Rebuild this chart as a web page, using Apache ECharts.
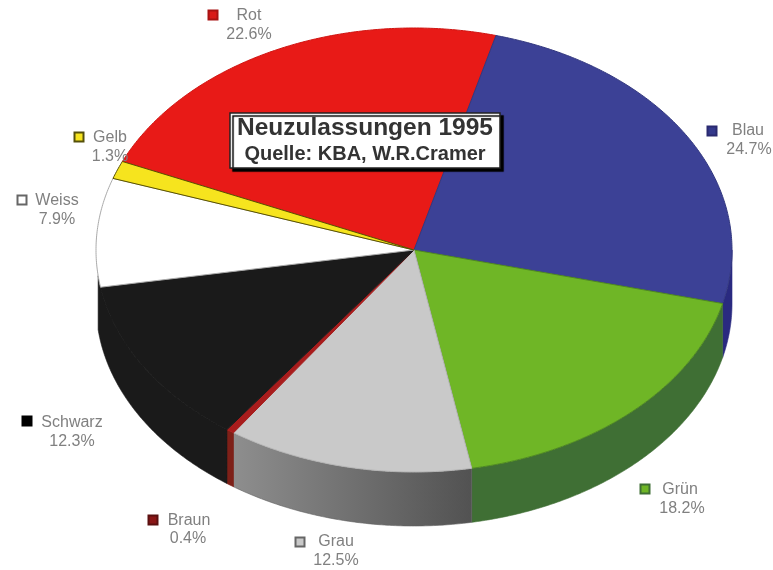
<!DOCTYPE html>
<html>
<head>
<meta charset="utf-8">
<style>html,body{margin:0;padding:0;background:#fff}#c{width:773px;height:570px}</style>
<script src="https://cdn.jsdelivr.net/npm/echarts@6/dist/echarts.min.js"></script>
</head>
<body>
<div id="c"></div>
<script>
// Data
var categories = ['Rot', 'Blau', 'Grün', 'Grau', 'Braun', 'Schwarz', 'Weiss', 'Gelb'];
var shares = [22.6, 24.7, 18.2, 12.5, 0.4, 12.3, 7.9, 1.3];
var shareLabels = ['22.6%', '24.7%', '18.2%', '12.5%', '0.4%', '12.3%', '7.9%', '1.3%'];

// Styles and layout
var topColors = ['#e81a17', '#3c4196', '#6fb626', '#c9c9c9', '#a81c1c', '#1a1a1a', '#ffffff', '#f6e41e'];
var topStrokes = ['#d01512', '#33387f', '#4f8a20', '#b5b5b5', '#a81c1c', '#1a1a1a', '#aaaaaa', '#5a5200'];
var sideColors = ['#a01010', '#2a2a80',  '#3f6f34', null, '#7e2018', '#1a1a1a', 'none', '#a09410'];
var sideOverrun = [0, 0, 0, 0, 0, 3, 0, 0];
var markerFill = ['#d91a18', '#34398c', '#6fb626', '#c9c9c9', '#8a1616', '#000000', '#ffffff', '#f6e41e'];
var markerEdge = ['#a81212', '#2a2a70', '#3f6f34', '#666666', '#5a1010', '#000000', '#666666', '#55500a'];
var markerPos = [[213,15],[712,131],[645,489],[300,542],[153,520],[27,421],[22,200],[79,137]];
var namePos   = [[249,16],[748,131],[680,490],[336,542],[189,521],[72,423],[57,201],[110,138]];
var valuePos  = [[249,35],[749,150],[682,509],[336,561],[188,539],[72,442],[57,220],[110,157]];
var cx = 414, cy = 250, rx = 318, ry = 222, depth = 54, startDeg = -66.5;

var total = shares.reduce(function (a, b) { return a + b; }, 0);
function boundsOf(i) {
  var sum = 0;
  for (var k = 0; k < i; k++) sum += shares[k];
  return [startDeg + sum / total * 360, startDeg + (sum + shares[i]) / total * 360];
}
function pt(deg, dy) {
  var t = deg * Math.PI / 180;
  return [cx + rx * Math.sin(t), cy - ry * Math.cos(t) + (dy || 0)];
}
function arc(a0, a1, dy) {
  var out = [], n = Math.max(2, Math.ceil(Math.abs(a1 - a0) * 2));
  for (var j = 0; j <= n; j++) out.push(pt(a0 + (a1 - a0) * j / n, dy));
  return out;
}
var rows = categories.map(function (c, i) { return { name: c, value: [i, shares[i]] }; });

var option = {
  animation: false,
  backgroundColor: '#ffffff',
  title: {
    text: 'Neuzulassungen 1995',
    subtext: 'Quelle: KBA, W.R.Cramer',
    left: 358, top: 113,
    textAlign: 'center',
    padding: [2, 7, 3, 7],
    itemGap: 1,
    backgroundColor: '#ffffff',
    borderColor: '#222222',
    borderWidth: 1.5,
    shadowColor: '#000000',
    shadowBlur: 1,
    shadowOffsetX: 3,
    shadowOffsetY: 3,
    textStyle: { fontFamily: 'Liberation Sans', fontWeight: 'bold', fontSize: 24.5, color: '#333333', lineHeight: 27 },
    subtextStyle: { fontFamily: 'Liberation Sans', fontWeight: 'bold', fontSize: 20, color: '#333333', lineHeight: 22 },
    z: 10
  },
  series: [
    {
      type: 'custom', name: 'Seite', coordinateSystem: 'none', z: 1, data: rows, silent: true,
      renderItem: function (p, api) {
        var i = api.value(0), b = boundsOf(i);
        var lo = Math.max(b[0], 90), hi = Math.min(b[1] + sideOverrun[i], 270);
        if (hi <= lo || sideColors[i] === 'none') return { type: 'group', children: [] };
        var pts = arc(lo, hi, 0).concat(arc(hi, lo, depth));
        var fill = sideColors[i] || {
          type: 'linear', x: 1, y: 0, x2: 0, y2: 0,
          colorStops: [{ offset: 0, color: '#525252' }, { offset: 1, color: '#8e8e8e' }]
        };
        return { type: 'polygon', shape: { points: pts }, style: { fill: fill, stroke: sideColors[i] || '#606060', lineWidth: 0.6 } };
      }
    },
    {
      type: 'custom', name: 'Anteil', coordinateSystem: 'none', z: 2, data: rows, silent: true,
      renderItem: function (p, api) {
        var i = api.value(0), b = boundsOf(i);
        var pts = [[cx, cy]].concat(arc(b[0], b[1], 0));
        return { type: 'polygon', shape: { points: pts }, style: { fill: topColors[i], stroke: topStrokes[i], lineWidth: 1 } };
      }
    },
    {
      type: 'custom', name: 'Legende', coordinateSystem: 'none', z: 5, data: rows, silent: true,
      renderItem: function (p, api) {
        var i = api.value(0), m = markerPos[i], n = namePos[i], v = valuePos[i];
        var font = '16px "Liberation Sans"';
        return {
          type: 'group',
          children: [
            { type: 'rect', shape: { x: m[0] - 4.5, y: m[1] - 4.5, width: 9, height: 9 }, style: { fill: markerFill[i], stroke: markerEdge[i], lineWidth: 2 } },
            { type: 'text', style: { text: categories[i], x: n[0], y: n[1], align: 'center', verticalAlign: 'middle', font: font, fill: '#808080' } },
            { type: 'text', style: { text: shareLabels[i], x: v[0], y: v[1], align: 'center', verticalAlign: 'middle', font: font, fill: '#808080' } }
          ]
        };
      }
    }
  ]
};
var chart = echarts.init(document.getElementById('c'), null, { renderer: 'canvas', width: 773, height: 570 });
chart.setOption(option);
</script>
</body>
</html>
